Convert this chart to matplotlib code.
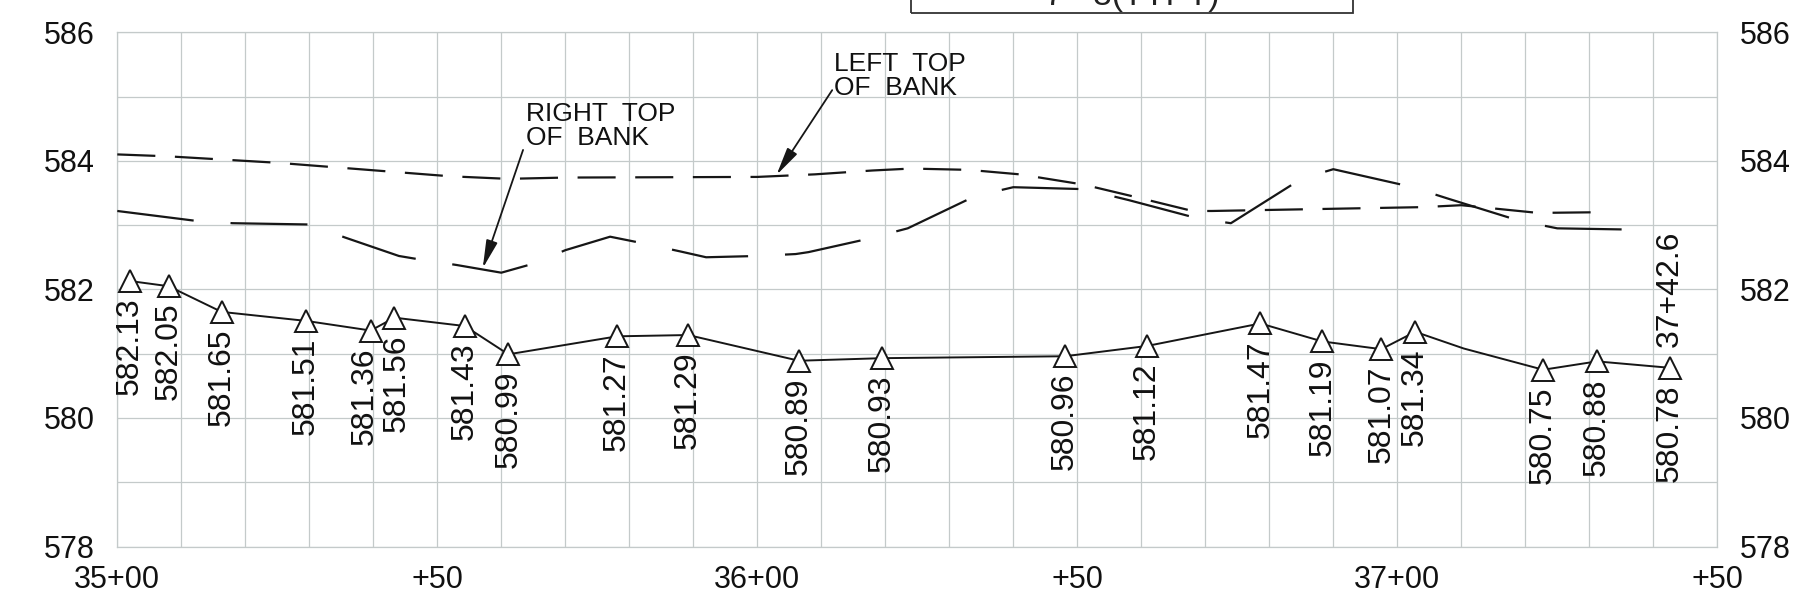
import matplotlib
matplotlib.use("Agg")
import matplotlib.pyplot as plt
from matplotlib.patches import Rectangle

plt.rcParams['font.family'] = ['Liberation Sans', 'DejaVu Sans']
plt.rcParams['lines.scale_dashes'] = False

# ---------------- data (stations in ft measured from 35+00) ----------------
x_tick_pos = [0, 50, 100, 150, 200, 250]
x_tick_labels = ['35+00', '+50', '36+00', '+50', '37+00', '+50']
y_ticks = [578, 580, 582, 584, 586]

# surveyed thalweg points (triangles)
thalweg_sta = [2.0, 8.0, 16.3, 29.5, 39.6, 43.3, 54.3, 61.1, 78.1, 89.2, 106.5,
               119.5, 148.1, 160.9, 178.6, 188.3, 197.5, 202.8, 222.8, 231.2, 242.6]
thalweg_elev = [582.13, 582.05, 581.65, 581.51, 581.36, 581.56, 581.43, 580.99,
                581.27, 581.29, 580.89, 580.93, 580.96, 581.12, 581.47, 581.19,
                581.07, 581.34, 580.75, 580.88, 580.78]
# extra bend in the profile line (no marker)
bend_sta = [210.4]
bend_elev = [581.08]
end_station_label = '37+42.6'

# left top of bank
left_bank_sta = [0, 8, 25, 43, 52, 61, 70, 100, 109, 118, 124, 133, 141, 151,
                 159, 168, 171, 204, 210, 222, 231]
left_bank_elev = [584.10, 584.07, 583.97, 583.83, 583.76, 583.72, 583.74, 583.75,
                  583.79, 583.85, 583.88, 583.86, 583.79, 583.63, 583.44, 583.22,
                  583.22, 583.28, 583.31, 583.19, 583.20]

# right top of bank
right_bank_sta = [0, 12, 18, 30, 35.5, 44, 47, 53, 60, 65, 70, 77, 82, 88, 92, 100,
                  106, 108, 117, 123.5, 134, 140, 151, 158, 169, 174, 185, 190,
                  202, 208, 219, 225, 237]
right_bank_elev = [583.22, 583.07, 583.03, 583.01, 582.81, 582.52, 582.47, 582.38,
                   582.26, 582.40, 582.61, 582.82, 582.72, 582.59, 582.50, 582.52,
                   582.55, 582.58, 582.78, 582.95, 583.45, 583.59, 583.56, 583.39,
                   583.10, 583.03, 583.72, 583.87, 583.60, 583.41, 583.07, 582.95,
                   582.93]

title_text = '7 - 3(TYPT)'

# ---------------- figure ----------------
W, H = 1803, 601
fig = plt.figure(figsize=(W / 100, H / 100), dpi=100)
ax = fig.add_axes([117.3 / W, 1 - 546.5 / H, 1600 / W, (546.5 - 32.3) / H])

grid_c = '#c4caca'
ax.set_xlim(0, 250)
ax.set_ylim(578, 586)
ax.set_xticks(x_tick_pos)
ax.set_xticklabels(x_tick_labels)
ax.set_xticks(range(0, 251, 10), minor=True)
ax.set_yticks(y_ticks)
ax.set_yticks(range(578, 587), minor=True)
ax.grid(True, which='both', color=grid_c, linewidth=0.9)
ax.set_axisbelow(True)
for sp in ax.spines.values():
    sp.set_color(grid_c)
    sp.set_linewidth(0.9)
ax.tick_params(which='both', length=0)
ax.tick_params(axis='x', labelsize=22, pad=13, labelcolor='#111111')
ax.tick_params(axis='y', labelsize=22, labelright=True, pad=16, labelcolor='#111111')

line_c = '#161616'
# bank lines
ax.plot(left_bank_sta, left_bank_elev, color=line_c, lw=1.6,
        linestyle=(0, (27.4, 14.1)), zorder=3)
ax.plot(right_bank_sta, right_bank_elev, color=line_c, lw=1.6,
        linestyle=(0, (55.4, 26.6)), zorder=3)

# thalweg profile line
pts = sorted(list(zip(thalweg_sta, thalweg_elev)) + list(zip(bend_sta, bend_elev)))
ax.plot([p[0] for p in pts], [p[1] for p in pts], color=line_c, lw=1.4, zorder=4)
ax.plot(thalweg_sta, thalweg_elev, linestyle='none', marker='^', ms=16,
        mfc='white', mec=line_c, mew=1.4, zorder=5, clip_on=False)

for i, (s, e) in enumerate(zip(thalweg_sta, thalweg_elev)):
    # the two crowded labels near +40 are nudged apart slightly
    dx = -4 if i == 4 else (2 if i == 5 else 0)
    ax.annotate(f'{e:.2f}', (s, e), xytext=(dx, -12), textcoords='offset points',
                rotation=90, ha='center', va='top', fontsize=23, color='#111111',
                zorder=6)
ax.annotate(end_station_label, (thalweg_sta[-1], thalweg_elev[-1]), xytext=(0, 15),
            textcoords='offset points', rotation=90, ha='center', va='bottom',
            fontsize=23, color='#111111', zorder=6)

# callouts
ax.text(63.9, 584.92, 'RIGHT  TOP\nOF  BANK', fontsize=19, ha='left', va='top',
        linespacing=1.0, color='#111111')
ax.annotate('', xy=(57.1, 582.33), xytext=(63.4, 584.17),
            arrowprops=dict(arrowstyle='-|>,head_length=1.7,head_width=0.35',
                            mutation_scale=10, lw=1.3, color=line_c,
                            shrinkA=0, shrinkB=0))
ax.text(112.0, 585.69, 'LEFT  TOP\nOF  BANK', fontsize=19, ha='left', va='top',
        linespacing=1.0, color='#111111')
ax.annotate('', xy=(103.0, 583.78), xytext=(111.7, 585.10),
            arrowprops=dict(arrowstyle='-|>,head_length=1.7,head_width=0.35',
                            mutation_scale=10, lw=1.3, color=line_c,
                            shrinkA=0, shrinkB=0))

# partially visible title box at top (cropped in the source drawing)
fig.add_artist(Rectangle((911 / W, 1 - 13.3 / H), 442 / W, 0.2,
                         transform=fig.transFigure, fill=False,
                         edgecolor='#333333', lw=1.3, clip_on=False))
fig.text(1132 / W, 1 - 5 / H, title_text, ha='center', va='baseline',
         fontsize=24, color='#222222')

fig.savefig('out.png', dpi=100, facecolor='white')
